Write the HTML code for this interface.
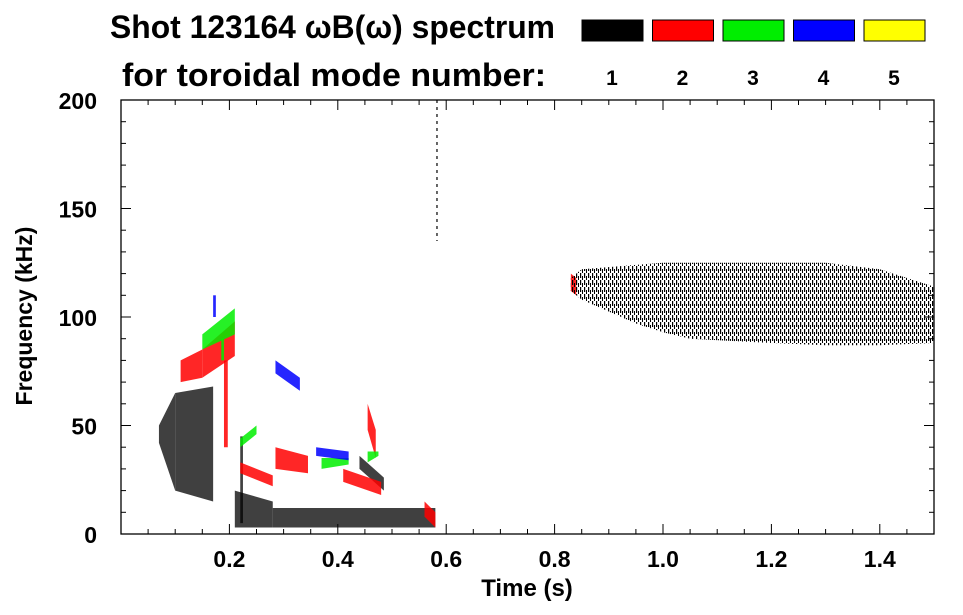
<!DOCTYPE html>
<html><head><meta charset="utf-8"><style>
html,body{margin:0;padding:0;background:#fff;}
svg{display:block;font-family:"Liberation Sans",Arial,sans-serif;font-weight:bold;}
</style></head><body>
<svg id="chart" width="963" height="615" viewBox="0 0 963 615">
<defs>
<pattern id="hatch" width="4" height="7" patternUnits="userSpaceOnUse"><rect x="0" y="0" width="1.2" height="5" fill="#000"/><rect x="2" y="3" width="1" height="4" fill="#000"/></pattern>
</defs>
<text x="110" y="38" font-size="32" textLength="445" lengthAdjust="spacingAndGlyphs">Shot 123164 ωB(ω) spectrum</text>
<text x="122" y="86" font-size="32" textLength="424" lengthAdjust="spacingAndGlyphs">for toroidal mode number:</text>
<g id="legend"></g>
<g id="marks"></g>
<g id="axes"></g>
<text x="527" y="596" font-size="24" text-anchor="middle">Time (s)</text>
<text transform="translate(32,316) rotate(-90)" font-size="23" text-anchor="middle">Frequency (kHz)</text>
</svg>
<script>
const modeNumbers = [1,2,3,4,5];
const modeColors = ["#000000","#ff0000","#00ee00","#0000ff","#ffff00"];
const xTicks = [0.2,0.4,0.6,0.8,1.0,1.2,1.4];
const xTickLabels = ["0.2","0.4","0.6","0.8","1.0","1.2","1.4"];
const yTicks = [0,50,100,150,200];
const yTickLabels = ["0","50","100","150","200"];
// bands: [mode, tStart, tEnd, fLoStart, fHiStart, fLoEnd, fHiEnd]
const bandModes = [1,1,1,1,1,1,1, 2,2,2,2,2,2,2,2, 3,3,3,3,3, 4,4,4, 2];
const bandT0 =   [0.07,0.10,0.21,0.28,0.44,0.50,0.22, 0.11,0.15,0.22,0.285,0.41,0.455,0.19,0.56, 0.15,0.22,0.37,0.455,0.185, 0.285,0.36,0.17, 0.83];
const bandT1 =   [0.10,0.17,0.28,0.50,0.485,0.58,0.225, 0.15,0.21,0.28,0.345,0.48,0.47,0.197,0.58, 0.21,0.25,0.42,0.475,0.19, 0.33,0.42,0.175, 0.84];
const bandLo0 =  [42,20,3,3,30,3,5, 70,72,28,30,24,48,40,8, 85,40,30,33,80, 74,36,100, 112];
const bandHi0 =  [50,65,20,12,36,12,45, 80,85,33,40,30,60,80,15, 92,44,35,38,90, 80,40,110, 120];
const bandLo1 =  [20,15,3,3,20,3,5, 72,82,22,28,18,35,40,3, 92,46,32,36,80, 66,34,100, 110];
const bandHi1 =  [65,68,15,12,26,12,45, 85,98,27,36,24,48,80,10, 104,50,35,38,90, 72,38,110, 118];
// right-side mode-1 region envelope
const envT = [0.83,0.85,0.95,1.0,1.05,1.2,1.3,1.4,1.5];
const envHi = [118,122,124,125,125,125,125,122,114];
const envLo = [112,108,97,93,90,88,87,87,88];
const X0=121,X1=934,Y0=534,Y1=100,TMAX=1.5,FMAX=200;
function xs(t){return X0+(X1-X0)*t/TMAX;}
function ys(f){return Y0-(Y0-Y1)*f/FMAX;}
const NS="http://www.w3.org/2000/svg";
function mk(tag,attrs,parent){const e=document.createElementNS(NS,tag);for(const k in attrs)e.setAttribute(k,attrs[k]);parent.appendChild(e);return e;}
const marks=document.getElementById('marks');
for(let i=0;i<bandModes.length;i++){
  const c=modeColors[bandModes[i]-1];
  const pts=[[xs(bandT0[i]),ys(bandHi0[i])],[xs(bandT1[i]),ys(bandHi1[i])],[xs(bandT1[i]),ys(bandLo1[i])],[xs(bandT0[i]),ys(bandLo0[i])]];
  const p=mk('polygon',{points:pts.map(q=>q.join(',')).join(' '),fill:c,'fill-opacity':bandModes[i]==1?0.75:0.85},marks);
  
  
}
let pts=[];
for(let i=0;i<envT.length;i++)pts.push(xs(envT[i])+','+ys(envHi[i]));
for(let i=envT.length-1;i>=0;i--)pts.push(xs(envT[i])+','+ys(envLo[i]));
const env=mk('polygon',{points:pts.join(' '),fill:'url(#hatch)'},marks);


const vl=mk('line',{x1:xs(0.583),x2:xs(0.583),y1:ys(200),y2:ys(135),stroke:'#000','stroke-width':1.2,'stroke-dasharray':'3,4'},marks);


// axes
const axes=document.getElementById('axes');
mk('rect',{x:X0,y:Y1,width:X1-X0,height:Y0-Y1,fill:'none',stroke:'#000','stroke-width':1.3},axes);
for(let k=1;k<30;k++){
  const t=k*0.05;const major=k%4==0;const L=major?10:5;const x=xs(t);
  mk('line',{x1:x,x2:x,y1:Y0,y2:Y0-L,stroke:'#000'},axes);
  mk('line',{x1:x,x2:x,y1:Y1,y2:Y1+L,stroke:'#000'},axes);
}
for(let f=10;f<FMAX;f+=10){
  const major=f%50==0;const L=major?10:5;const y=ys(f);
  mk('line',{x1:X0,x2:X0+L,y1:y,y2:y,stroke:'#000'},axes);
  mk('line',{x1:X1,x2:X1-L,y1:y,y2:y,stroke:'#000'},axes);
}
for(let i=0;i<xTicks.length;i++){
  const t=mk('text',{x:xs(xTicks[i]),y:567,'font-size':23,'text-anchor':'middle'},axes);t.textContent=xTickLabels[i];
  
  
}
for(let i=0;i<yTicks.length;i++){
  const t=mk('text',{x:97,y:ys(yTicks[i])+9,'font-size':23,'text-anchor':'end'},axes);t.textContent=yTickLabels[i];
  
  
}
const lg=document.getElementById('legend');
for(let i=0;i<modeNumbers.length;i++){
  const x=582+i*70.5;
  const r=mk('rect',{x:x,y:20,width:61,height:21,fill:modeColors[i],stroke:'#000','stroke-width':1},lg);
  
  
  const t=mk('text',{x:x+30,y:85,'font-size':21,'text-anchor':'middle'},lg);t.textContent=modeNumbers[i];
  
  
}
</script>
</body></html>
